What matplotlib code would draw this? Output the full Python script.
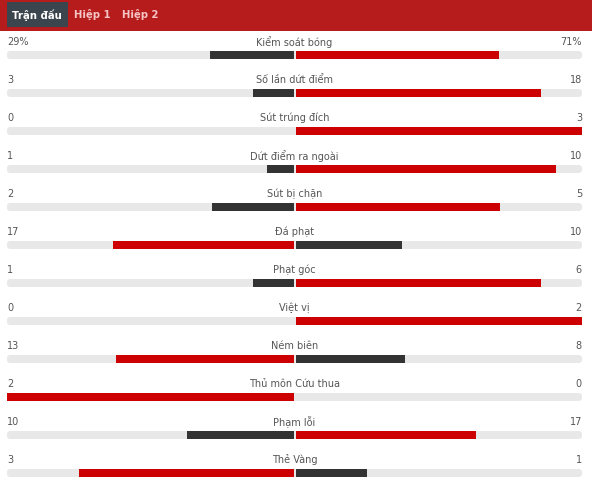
import matplotlib.pyplot as plt
from matplotlib.patches import FancyBboxPatch, Rectangle
import numpy as np

labels = ["Kiểm soát bóng", "Số lần dứt điểm", "Sút trúng đích", "Dứt điểm ra ngoài",
          "Sút bị chặn", "Đá phạt", "Phạt góc", "Việt vị", "Ném biên",
          "Thủ môn Cứu thua", "Phạm lỗi", "Thẻ Vàng"]
home = [29, 3, 0, 1, 2, 17, 1, 0, 13, 2, 10, 3]
away = [71, 18, 3, 10, 5, 10, 6, 2, 8, 0, 17, 1]
suffix = ["%", "", "", "", "", "", "", "", "", "", "", ""]
tabs = ["Trận đấu", "Hiệp 1", "Hiệp 2"]

RED = "#cc0000"
DARK = "#333333"
TRACK = "#e8e8e8"
TEXT = "#555555"

W, H = 592, 490
fig = plt.figure(figsize=(W / 100, H / 100), dpi=100)
ax = fig.add_axes([0, 0, 1, 1])
ax.set_xlim(0, W)
ax.set_ylim(H, 0)
ax.axis("off")

# header
ax.add_patch(Rectangle((0, 0), W, 31, color="#b71c1c", lw=0))
ax.add_patch(Rectangle((7, 2), 61, 25, color="#3b454d", lw=0))
tab_x = [37, 92, 140]
for i, (t, x) in enumerate(zip(tabs, tab_x)):
    ax.text(x, 15, t, ha="center", va="center", fontsize=7.3, fontweight="bold",
            color="white" if i == 0 else "#f6c4c4")

left_edge, right_edge = 7, 582
center = 294.5
half = 286.5
row0, step = 42, 38
bar_h = 8

for i, (lab, h, a, s) in enumerate(zip(labels, home, away, suffix)):
    ty = row0 + i * step
    by = ty + 13
    ax.text(left_edge, ty, f"{h}{s}", ha="left", va="center", fontsize=7, color=TEXT)
    ax.text(center, ty, lab, ha="center", va="center", fontsize=7, color=TEXT)
    ax.text(right_edge, ty, f"{a}{s}", ha="right", va="center", fontsize=7, color=TEXT)
    ax.add_patch(FancyBboxPatch((left_edge, by - bar_h / 2), right_edge - left_edge, bar_h,
                                boxstyle="round,pad=0,rounding_size=3.5", fc=TRACK, ec="none"))
    total = h + a
    hw = half * h / total if total else 0
    aw = half * a / total if total else 0
    hc = RED if h > a else DARK
    ac = RED if a > h else DARK
    ax.barh(by, -hw, left=center - 1, height=bar_h, color=hc, lw=0)
    ax.barh(by, aw, left=center + 1, height=bar_h, color=ac, lw=0)

fig.savefig("out.png", dpi=100)
